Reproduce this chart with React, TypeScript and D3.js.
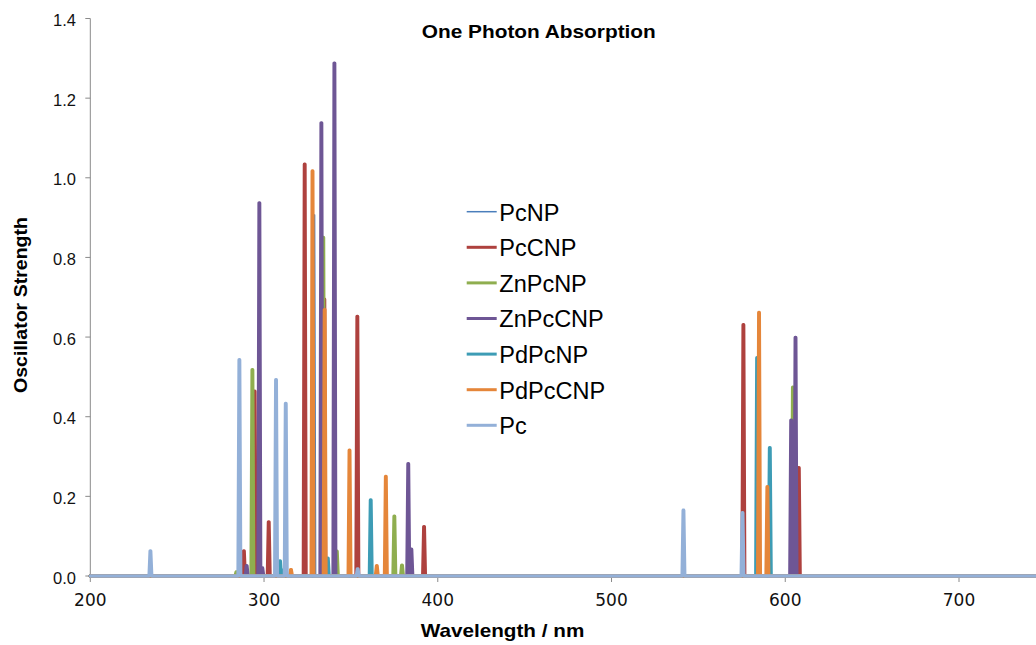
import React from "react";
import * as d3 from "d3";

type Peak = [number, number];

const seriesNames = ["PcNP", "PcCNP", "ZnPcNP", "ZnPcCNP", "PdPcNP", "PdPcCNP", "Pc"];
const seriesColors = ["#4A7EBB", "#AE413E", "#8FAE4F", "#6E5695", "#3D9CB5", "#E5863A", "#93B0D8"];
const seriesWidths = [1.3, 3.4, 3.4, 3.4, 3.4, 3.4, 3.4];

const pcNP: Peak[] = [[329.0, 0.907]];
const pcCNP: Peak[] = [
  [288.4, 0.063], [294.6, 0.464], [302.7, 0.136], [323.4, 1.034], [334.7, 0.695],
  [353.7, 0.652], [392.1, 0.124], [575.9, 0.631], [607.8, 0.272],
];
const znPcNP: Peak[] = [
  [284.1, 0.01], [293.3, 0.518], [334.1, 0.85], [341.9, 0.062], [375.0, 0.15],
  [379.4, 0.027], [604.4, 0.474],
];
const znPcCNP: Peak[] = [
  [290.0, 0.026], [297.3, 0.937], [299.0, 0.02], [333.0, 1.138], [340.5, 1.288],
  [383.0, 0.282], [384.8, 0.067], [603.4, 0.391], [605.9, 0.599],
];
const pdPcNP: Peak[] = [
  [309.2, 0.038], [310.4, 0.015], [336.7, 0.045], [361.4, 0.191], [583.8, 0.548], [591.1, 0.322],
];
const pdPcCNP: Peak[] = [
  [315.5, 0.016], [327.9, 1.017], [334.9, 0.669], [349.2, 0.316], [364.9, 0.026],
  [370.1, 0.25], [584.9, 0.662], [589.7, 0.224],
];
const pc: Peak[] = [
  [234.6, 0.063], [285.8, 0.543], [306.9, 0.493], [312.5, 0.433], [353.9, 0.018],
  [541.4, 0.165], [575.4, 0.159],
];
const seriesData = [pcNP, pcCNP, znPcNP, znPcCNP, pdPcNP, pdPcCNP, pc];

const xTicks = [200, 300, 400, 500, 600, 700];
const yTicks = [0, 0.2, 0.4, 0.6, 0.8, 1.0, 1.2, 1.4];

const W = 1036;
const H = 645;
const halfWidth = 0.75;

export default function App() {
  const x = d3.scaleLinear().domain([200, 700]).range([90.3, 959]);
  const y = d3.scaleLinear().domain([0, 1.4]).range([576, 18.5]);
  const xEnd = x.invert(W + 10);

  const line = d3
    .line<Peak>()
    .x((d) => x(d[0]))
    .y((d) => y(d[1]));

  const pathFor = (peaks: Peak[]) => {
    const sorted = [...peaks].sort((a, b) => a[0] - b[0]);
    const pts: Peak[] = [[200, 0]];
    sorted.forEach(([w, f]) => {
      pts.push([w - halfWidth, 0], [w - 0.15, f], [w + 0.15, f], [w + halfWidth, 0]);
    });
    pts.push([xEnd, 0]);
    return line(pts) || "";
  };

  const legendX = 466.7;
  const legendY0 = 211.7;
  const legendStep = 35.6;

  return (
    <svg
      width={W}
      height={H}
      style={{ position: "absolute", left: 0, top: 0, background: "#fff" }}
    >
      <rect x={0} y={0} width={W} height={H} fill="#fff" />
      {/* y axis */}
      <line x1={x(200)} x2={x(200)} y1={y(1.4)} y2={y(0)} stroke="#8a8a8a" strokeWidth={1} />
      {yTicks.map((t) => (
        <g key={"y" + t}>
          <line x1={x(200) - 5} x2={x(200)} y1={y(t)} y2={y(t)} stroke="#8a8a8a" strokeWidth={1} />
          <text
            x={76}
            y={y(t) + 7.5}
            textAnchor="end"
            fontFamily="Liberation Sans, Arial, sans-serif"
            fontSize={16.5}
            fill="#111"
          >
            {d3.format(".1f")(t)}
          </text>
        </g>
      ))}
      {/* x axis */}
      <line x1={x(200)} x2={W} y1={y(0)} y2={y(0)} stroke="#8a8a8a" strokeWidth={1} />
      {xTicks.map((t) => (
        <g key={"x" + t}>
          <line x1={x(t)} x2={x(t)} y1={y(0)} y2={y(0) + 6} stroke="#8a8a8a" strokeWidth={1} />
          <text
            x={x(t)}
            y={606}
            textAnchor="middle"
            fontFamily="DejaVu Sans, sans-serif"
            fontSize={17}
            fill="#111"
          >
            {t}
          </text>
        </g>
      ))}
      {/* series */}
      {seriesData.map((peaks, i) => (
        <path
          key={seriesNames[i]}
          d={pathFor(peaks)}
          fill="none"
          stroke={seriesColors[i]}
          strokeWidth={seriesWidths[i]}
          strokeLinejoin="round"
          strokeLinecap="round"
        />
      ))}
      {/* title */}
      <text
        x={538.8}
        y={38.3}
        textAnchor="middle"
        fontFamily="Liberation Sans, Arial, sans-serif"
        fontWeight="bold"
        fontSize={19}
        textLength={234}
        lengthAdjust="spacingAndGlyphs"
        fill="#000"
      >
        One Photon Absorption
      </text>
      {/* axis titles */}
      <text
        x={502.5}
        y={636.5}
        textAnchor="middle"
        fontFamily="Liberation Sans, Arial, sans-serif"
        fontWeight="bold"
        fontSize={19}
        textLength={163.6}
        lengthAdjust="spacingAndGlyphs"
        fill="#000"
      >
        Wavelength / nm
      </text>
      <text
        transform={`translate(27, 305) rotate(-90)`}
        textAnchor="middle"
        fontFamily="Liberation Sans, Arial, sans-serif"
        fontWeight="bold"
        fontSize={19}
        textLength={176}
        lengthAdjust="spacingAndGlyphs"
        fill="#000"
      >
        Oscillator Strength
      </text>
      {/* legend */}
      {seriesNames.map((name, i) => {
        const ly = legendY0 + i * legendStep;
        return (
          <g key={"lg" + name}>
            <line
              x1={legendX}
              x2={legendX + 30}
              y1={ly}
              y2={ly}
              stroke={seriesColors[i]}
              strokeWidth={i === 0 ? 1.5 : 3}
            />
            <text
              x={499.3}
              y={ly + 8.8}
              fontFamily="Liberation Sans, Arial, sans-serif"
              fontSize={23.5}
              fill="#000"
            >
              {name}
            </text>
          </g>
        );
      })}
    </svg>
  );
}
